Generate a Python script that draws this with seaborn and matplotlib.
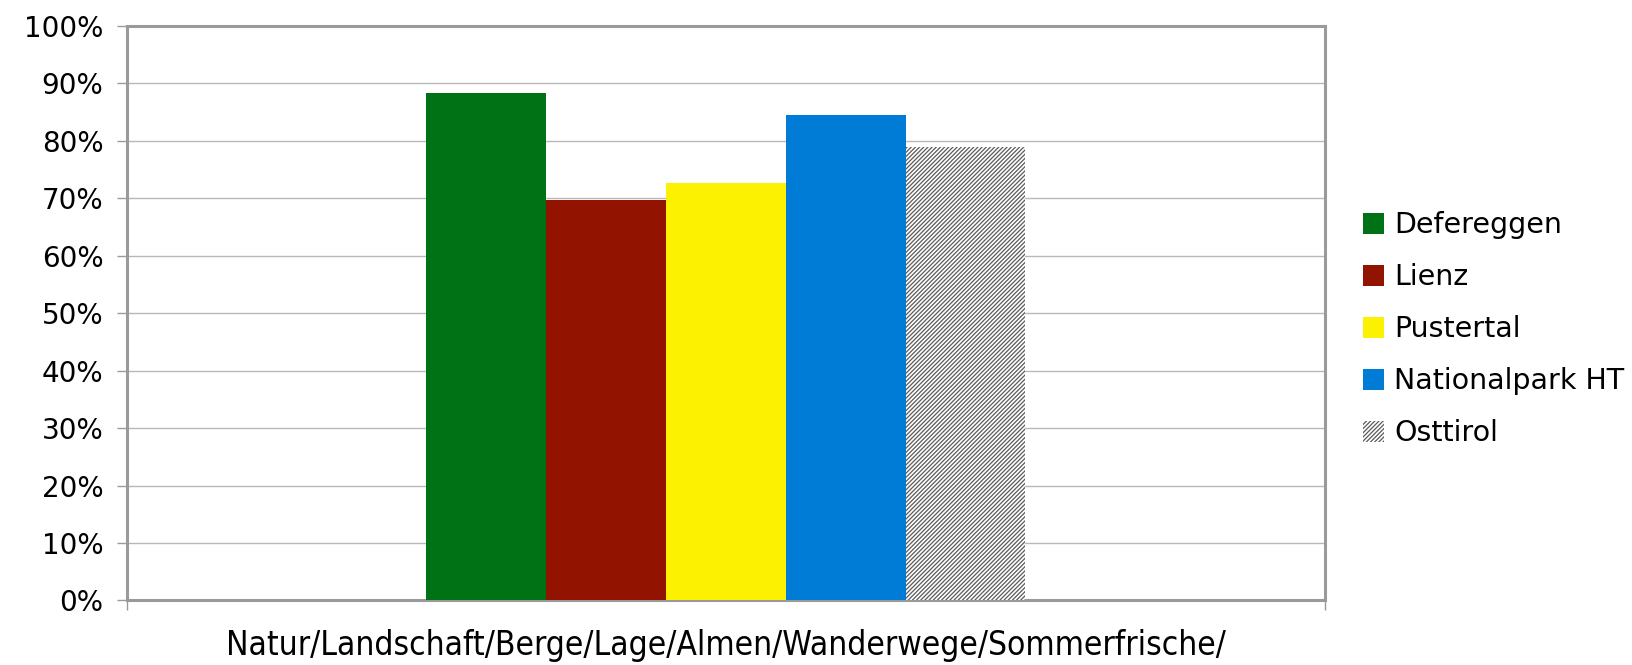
import matplotlib
matplotlib.use("Agg")
import matplotlib.pyplot as plt
import matplotlib.patches as mpatches
from matplotlib.ticker import PercentFormatter
import seaborn as sns
import pandas as pd

category = ["Natur/Landschaft/Berge/Lage/Almen/Wanderwege/Sommerfrische/"]
regions = ["Defereggen", "Lienz", "Pustertal", "Nationalpark HT", "Osttirol"]
shares = [0.883, 0.697, 0.727, 0.845, 0.789]
colors = ["#007216", "#921400", "#FBF100", "#007CD7", "#ffffff"]

sns.set_style("white")
plt.rcParams["font.family"] = ["DejaVu Sans"]
plt.rcParams["text.color"] = "black"
plt.rcParams["hatch.color"] = "#5a5a5a"
plt.rcParams["hatch.linewidth"] = 0.9

df = pd.DataFrame({"cat": category * len(regions), "region": regions, "share": shares})

fig = plt.figure(figsize=(16.32, 6.65), dpi=100)
ax = fig.add_axes([0.0778, 0.097, 0.734, 0.864])

sns.barplot(data=df, x="cat", y="share", hue="region", hue_order=regions,
            palette=colors, width=0.5, saturation=1, legend=False, ax=ax,
            linewidth=0, edgecolor="none", zorder=3)

# dotted pattern fill for Osttirol
ax.patches[-1].set_hatch("////////")
ax.patches[-1].set_edgecolor("#5a5a5a")
ax.patches[-1].set_linewidth(0)

ax.set_ylim(0, 1)
ax.set_xlim(-0.5, 0.5)
ax.set_yticks([i / 10 for i in range(11)])
ax.yaxis.set_major_formatter(PercentFormatter(1.0, decimals=0))
ax.grid(axis="y", color="#b8b8b8", linewidth=1.0, zorder=0)
ax.set_axisbelow(True)

for sp in ax.spines.values():
    sp.set_color("#9a9a9a")
    sp.set_linewidth(2.2)

ax.set_xticks([-0.5, 0.5])
ax.set_xticklabels(["", ""])
ax.tick_params(axis="x", direction="out", length=7, width=1, color="#9a9a9a", bottom=True)
ax.tick_params(axis="y", direction="out", length=7, width=1, color="#9a9a9a", left=True,
               labelsize=20, labelcolor="black", pad=10)
ax.set_ylabel("")
ax.set_xlabel(category[0], fontsize=24, fontstretch="condensed", color="black", labelpad=10)

handles = []
for c, r in zip(colors, regions):
    if r == "Osttirol":
        handles.append(mpatches.Patch(facecolor="#ffffff", edgecolor="#5a5a5a", hatch="////////", linewidth=0, label=r))
    else:
        handles.append(mpatches.Patch(facecolor=c, edgecolor="none", label=r))
leg = fig.legend(handles=handles, loc="center left", bbox_to_anchor=(1363 / 1632, 0.505),
                 frameon=False, fontsize=20.5, handlelength=0.75, handleheight=0.75,
                 handletextpad=0.35, labelspacing=0.84, borderpad=0, borderaxespad=0)
for t in leg.get_texts():
    t.set_color("black")

fig.savefig("out.png", dpi=100)
